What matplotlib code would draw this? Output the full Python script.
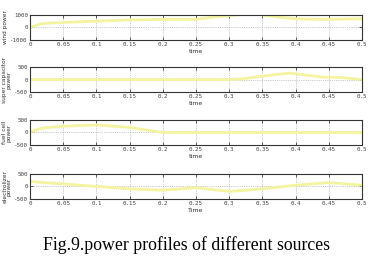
import matplotlib
matplotlib.use("Agg")
import matplotlib.pyplot as plt
import numpy as np

t_wind = [0, 0.01, 0.02, 0.05, 0.1, 0.15, 0.2, 0.25, 0.28, 0.3, 0.32, 0.335, 0.35, 0.37, 0.4, 0.43, 0.46, 0.5]
p_wind = [0, 200, 320, 400, 500, 600, 650, 650, 850, 950, 1030, 1080, 1000, 850, 700, 650, 660, 700]

t_sc = [0, 0.05, 0.1, 0.2, 0.3, 0.32, 0.36, 0.39, 0.41, 0.44, 0.47, 0.5]
p_sc = [0, 0, 0, 0, 0, 30, 170, 260, 200, 100, 80, 0]

t_fc = [0, 0.01, 0.02, 0.05, 0.1, 0.15, 0.2, 0.25, 0.3, 0.4, 0.5]
p_fc = [0, 120, 180, 250, 300, 200, 0, 0, 0, 0, 0]

t_el = [0, 0.02, 0.05, 0.1, 0.15, 0.2, 0.25, 0.3, 0.35, 0.4, 0.45, 0.5]
p_el = [200, 150, 100, 0, -100, -150, -50, -200, -100, 50, 150, 50]

ylabels = ["wind power", "super capacitor\npower", "fuel cell\npower", "electrolizer\npower"]
xlabels = ["time", "time", "time", "Time"]
ylims = [(-1000, 1000), (-500, 500), (-500, 500), (-500, 500)]
yticks = [[-1000, 0, 1000], [-500, 0, 500], [-500, 0, 500], [-500, 0, 500]]
xticks = [0, 0.05, 0.1, 0.15, 0.2, 0.25, 0.3, 0.35, 0.4, 0.45, 0.5]
xticklabels = ["0", "0.05", "0.1", "0.15", "0.2", "0.25", "0.3", "0.35", "0.4", "0.45", "0.5"]
caption = "Fig.9.power profiles of different sources"

series = [(t_wind, p_wind), (t_sc, p_sc), (t_fc, p_fc), (t_el, p_el)]

fig = plt.figure(figsize=(3.75, 2.58), dpi=100)
fig.patch.set_facecolor("white")

bottoms = [0.845, 0.643, 0.438, 0.229]
h = 0.097
left, width = 0.08, 0.885

for i, (t, p) in enumerate(series):
    ax = fig.add_axes([left, bottoms[i], width, h])
    ax.plot(t, p, color="#f3f3a0", lw=2.0, solid_joinstyle="round")
    ax.set_xlim(0, 0.5)
    ax.set_ylim(*ylims[i])
    ax.set_xticks(xticks)
    ax.set_xticklabels(xticklabels, fontsize=4.2, fontfamily="DejaVu Sans Mono", color="#333333")
    ax.set_yticks(yticks[i])
    ax.set_yticklabels([str(v) for v in yticks[i]], fontsize=4.2, fontfamily="DejaVu Sans Mono", color="#333333")
    ax.tick_params(direction="in", length=2.5, width=0.6, top=True, right=True, pad=1.5, colors="#444444")
    ax.grid(True, linestyle=":", linewidth=0.5, color="#999999")
    ax.set_axisbelow(True)
    for s in ax.spines.values():
        s.set_linewidth(0.8)
        s.set_color("#333333")
    ax.set_xlabel(xlabels[i], fontsize=4.5, labelpad=1.5, color="#333333")
    ax.set_ylabel(ylabels[i], fontsize=4.2, labelpad=1.5, linespacing=0.9, color="#333333")

fig.text(0.497, 0.050, caption, ha="center", va="center", fontsize=12.8, fontfamily="Liberation Serif")

fig.savefig("out.png", dpi=100, facecolor="white")
